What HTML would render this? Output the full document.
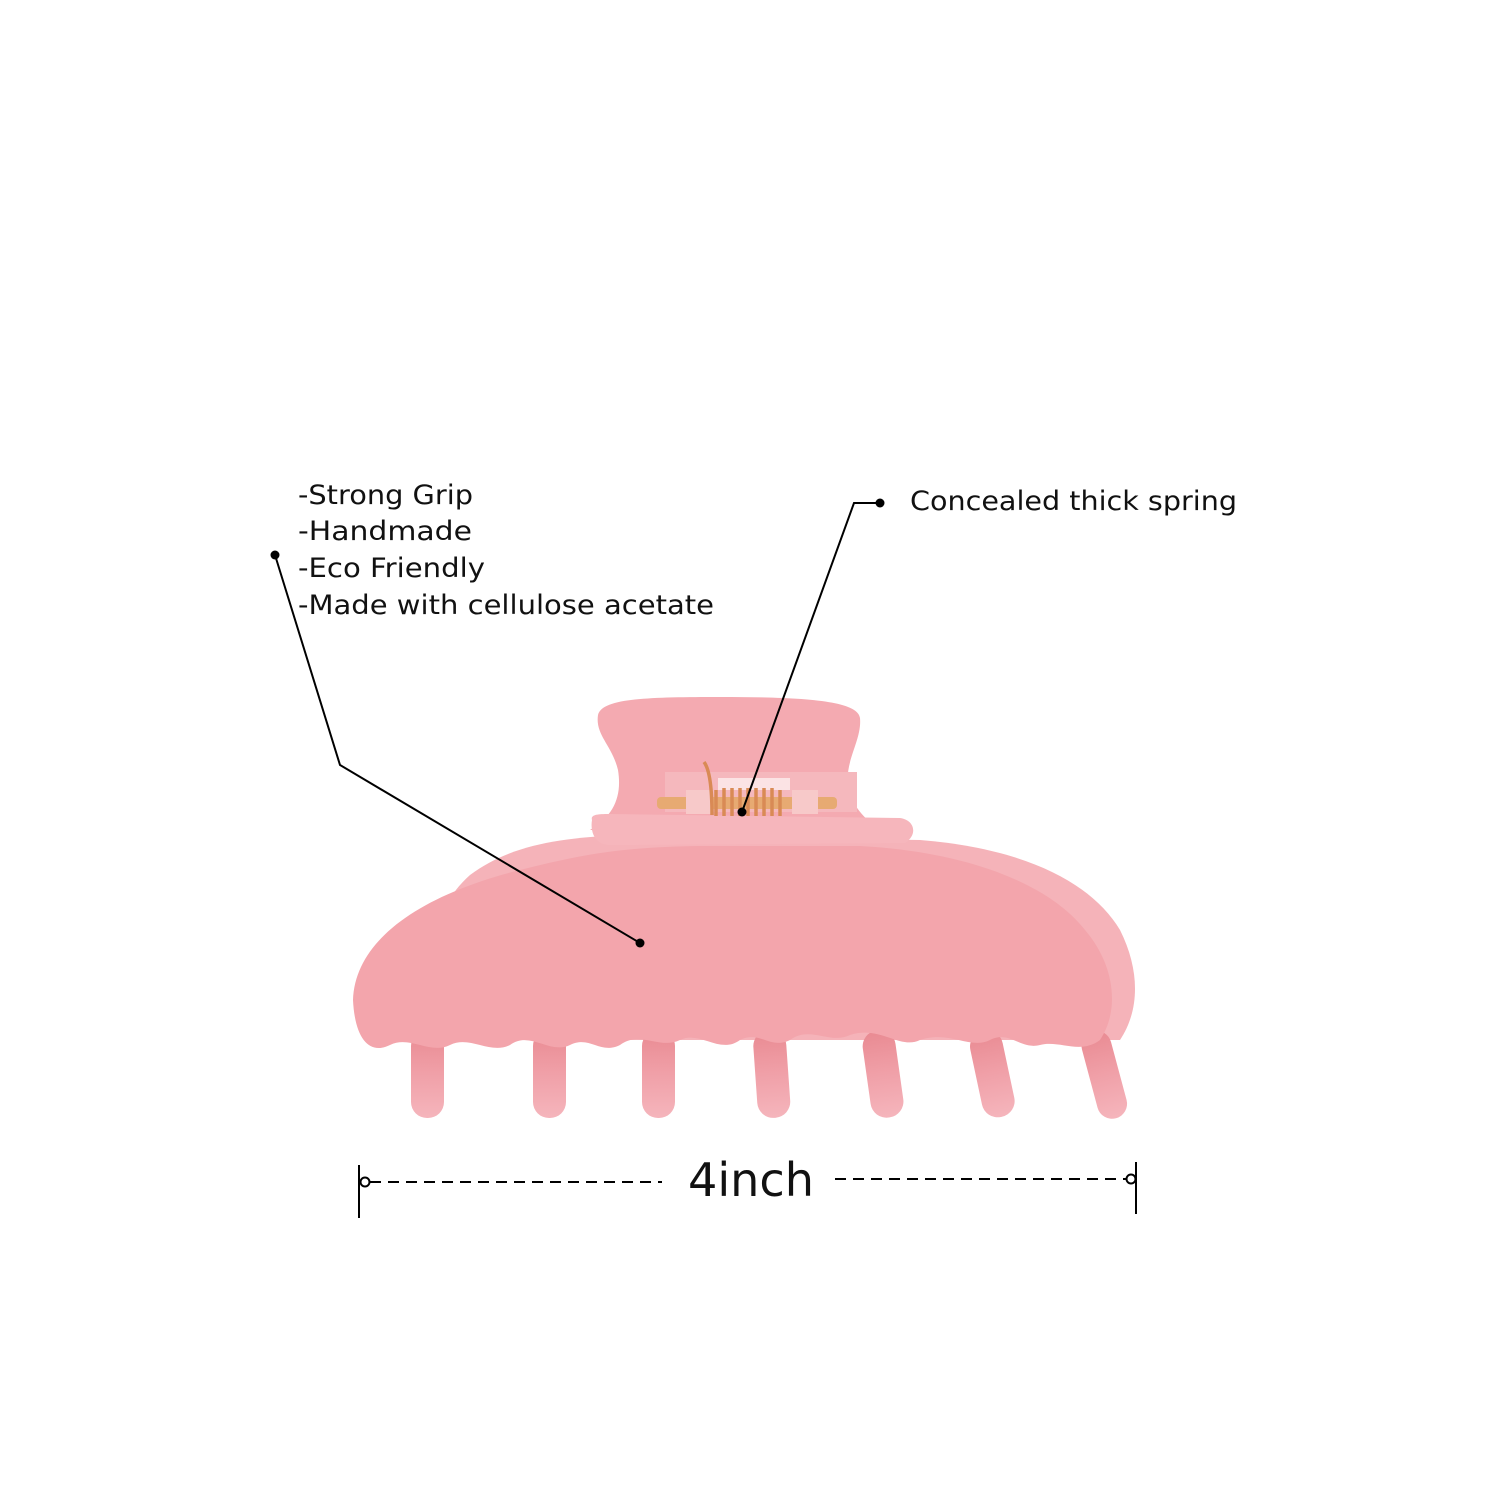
<!DOCTYPE html>
<html><head><meta charset="utf-8"><style>
html,body{margin:0;padding:0;background:#fff;}
svg{display:block;}
text{font-family:"DejaVu Sans","Liberation Sans",sans-serif;fill:#111;}
</style></head><body>
<svg width="1500" height="1500" viewBox="0 0 1500 1500" xmlns="http://www.w3.org/2000/svg">
<defs>
<linearGradient id="tooth" x1="0" y1="0" x2="0" y2="1">
<stop offset="0" stop-color="#e98a92"/><stop offset="0.5" stop-color="#f0a0a8"/><stop offset="1" stop-color="#f5b5bc"/>
</linearGradient>
</defs>
<!-- handle -->
<path d="M590 830 C615 815 622 795 618 770 C612 745 595 735 598 715 C602 698 650 697 720 697 C800 697 858 700 860 718 C862 740 845 760 848 785 C852 810 870 822 880 830 Z" fill="#f4aab1"/>
<!-- back layer -->
<path d="M470 1040 C430 980 420 920 470 875 C510 845 560 838 620 835 L920 840 C1020 848 1090 880 1120 930 C1140 970 1140 1010 1120 1040 Z" fill="#f5b3b9"/>
<!-- teeth -->
<g fill="url(#tooth)">
<rect x="411" y="1030" width="33" height="88" rx="16"/>
<rect x="533" y="1030" width="33" height="88" rx="16"/>
<rect x="642" y="1030" width="33" height="88" rx="16"/>
<rect x="755" y="1030" width="33" height="88" rx="16" transform="rotate(-4 771 1070)"/>
<rect x="866" y="1030" width="33" height="88" rx="16" transform="rotate(-8 882 1070)"/>
<rect x="975" y="1030" width="33" height="88" rx="16" transform="rotate(-12 991 1070)"/>
<rect x="1088" y="1030" width="30" height="90" rx="15" transform="rotate(-15 1103 1070)"/>
</g>
<!-- front body -->
<path d="M353 1000 C355 940 420 895 520 870 C580 855 620 847 700 846 L860 846 C970 852 1050 885 1085 930 C1115 965 1120 1010 1100 1040 C1080 1055 1060 1040 1040 1045 C1020 1050 1010 1030 990 1040 C970 1050 950 1030 920 1040 C900 1050 880 1025 850 1035 C830 1045 810 1025 790 1040 C770 1050 760 1030 740 1040 C720 1055 700 1030 680 1040 C660 1050 640 1030 620 1045 C600 1055 590 1035 570 1045 C550 1055 530 1030 510 1045 C490 1055 470 1035 450 1045 C430 1055 410 1035 390 1045 C370 1055 355 1040 353 1000 Z" fill="#f3a5ac"/>
<!-- top bar -->
<path d="M592 820 C590 814 600 814 610 814 L900 818 C915 820 918 835 905 843 L610 845 C595 845 590 832 592 820 Z" fill="#f6b6bc"/>
<!-- spring -->
<rect x="665" y="772" width="192" height="40" fill="#f5b8bd"/>
<rect x="718" y="778" width="72" height="12" fill="#fbe3e4"/>
<rect x="657" y="797" width="180" height="12" rx="4" fill="#e7aa72"/>
<rect x="686" y="790" width="26" height="24" fill="#f7c9c9"/>
<rect x="792" y="790" width="26" height="24" fill="#f7c9c9"/>
<g fill="none" stroke="#d98a55" stroke-width="3.5">
<path d="M716 790 l0 26 M724 788 l0 28 M732 788 l0 28 M740 788 l0 28 M748 788 l0 28 M756 788 l0 28 M764 788 l0 28 M772 788 l0 28 M780 790 l0 26"/>
<path d="M712 815 C712 790 710 770 704 762"/>
</g>
<!-- leader lines -->
<g stroke="#000" stroke-width="2" fill="none">
<polyline points="275,555 340,765 640,943"/>
<polyline points="880,503 854,503 742,812"/>
</g>
<g fill="#000">
<circle cx="275" cy="555" r="4.5"/><circle cx="640" cy="943" r="4.5"/>
<circle cx="880" cy="503" r="4.5"/><circle cx="742" cy="812" r="4.5"/>
</g>
<!-- labels -->
<g font-size="27">
<text x="298" y="504" textLength="175" lengthAdjust="spacingAndGlyphs">-Strong Grip</text>
<text x="298" y="540" textLength="174" lengthAdjust="spacingAndGlyphs">-Handmade</text>
<text x="298" y="577" textLength="187" lengthAdjust="spacingAndGlyphs">-Eco Friendly</text>
<text x="298" y="614" textLength="416" lengthAdjust="spacingAndGlyphs">-Made with cellulose acetate</text>
<text x="910" y="510" textLength="327" lengthAdjust="spacingAndGlyphs">Concealed thick spring</text>
</g>
<!-- dimension -->
<g stroke="#000" stroke-width="2" fill="none">
<line x1="359" y1="1165" x2="359" y2="1218"/>
<line x1="1136" y1="1162" x2="1136" y2="1214"/>
<line x1="370" y1="1182" x2="662" y2="1182" stroke-dasharray="11,7"/>
<line x1="835" y1="1179" x2="1127" y2="1179" stroke-dasharray="11,7"/>
<circle cx="365" cy="1182" r="4.5" fill="#fff"/>
<circle cx="1131" cy="1179" r="4.5" fill="#fff"/>
</g>
<text x="688" y="1196" font-size="46" textLength="126" lengthAdjust="spacingAndGlyphs">4inch</text>
</svg>
</body></html>
